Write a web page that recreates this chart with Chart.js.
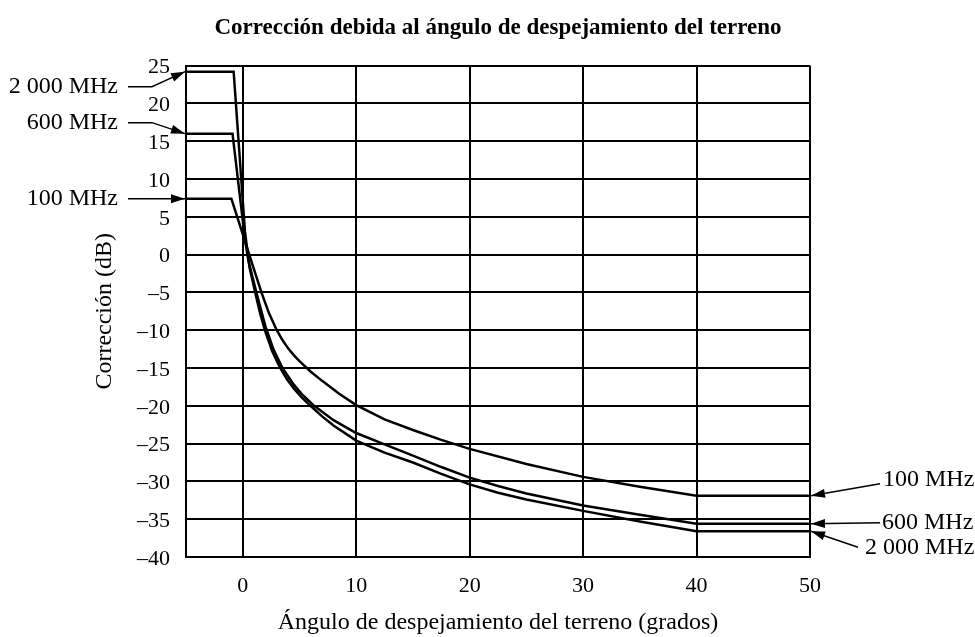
<!DOCTYPE html>
<html>
<head>
<meta charset="utf-8">
<script src="https://cdn.jsdelivr.net/npm/chart.js@4.4.1/dist/chart.umd.min.js"></script>
<style>
html,body{margin:0;padding:0;background:#fff;}
#wrap{width:975px;height:637px;}
</style>
</head>
<body>
<div id="wrap"><canvas id="chart" width="975" height="637"></canvas></div>
<script>
/* Corrección debida al ángulo de despejamiento del terreno */

// --- data ---
var SERIES_LABELS = ['100 MHz', '600 MHz', '2 000 MHz'];

var ANG_100 = [-5, -1.0, 0, 1, 1.65, 2.3, 3, 3.5, 4, 4.5, 5, 6, 7, 8.5, 10, 12.5, 15, 17.5, 20, 25, 30, 35, 40, 50];
var DB_100  = [7.4, 7.4, 2.7, -2.0, -5.0, -7.7, -10.0, -11.3, -12.4, -13.3, -14.1, -15.5, -16.7, -18.4, -19.9, -21.8, -23.2, -24.5, -25.7, -27.7, -29.4, -30.7, -31.9, -31.9];

var ANG_600 = [-5, -0.9, 0.2, 0.5, 1.2, 2.0, 2.7, 3.5, 4.5, 5.3, 6.3, 7, 8, 10, 12.5, 15, 17.5, 20, 22.5, 25, 30, 35, 40, 50];
var DB_600  = [16.0, 16.0, 2.0, -0.8, -5.0, -9.5, -12.5, -15.0, -17.2, -18.6, -20.0, -20.8, -21.9, -23.6, -25.1, -26.6, -28.1, -29.5, -30.6, -31.6, -33.2, -34.4, -35.6, -35.6];

var ANG_2000 = [-5, -0.8, 0.2, 0.6, 1.1, 1.5, 1.95, 2.6, 3.3, 3.9, 4.5, 5.2, 5.9, 7, 8, 10, 12.5, 15, 17.5, 20, 22.5, 25, 30, 35, 40, 50];
var DB_2000  = [24.2, 24.2, 3.0, -1.7, -5.0, -7.6, -10.0, -12.8, -15.0, -16.5, -17.7, -18.9, -19.9, -21.4, -22.6, -24.6, -26.2, -27.5, -29.0, -30.4, -31.5, -32.4, -33.9, -35.3, -36.6, -36.6];

var X_TICKS = [0, 10, 20, 30, 40, 50];
var Y_TICKS = [-40, -35, -30, -25, -20, -15, -10, -5, 0, 5, 10, 15, 20, 25];

var FONT = '"Liberation Serif", "Times New Roman", serif';

function toPoints(xs, ys) {
  return xs.map(function(x, i){ return {x: x, y: ys[i]}; });
}

// label offsets (px) from the arrow tip, same order as SERIES_LABELS
var LEFT_NOTE_DY  = [0, -11, 15];
var RIGHT_NOTE_DY = [-16, -1, 16];

function arrowHead(ctx, x0, y0, x1, y1) {
  var ang = Math.atan2(y1 - y0, x1 - x0), L = 14, W = 4.5;
  var bx = x1 - L * Math.cos(ang), by = y1 - L * Math.sin(ang);
  ctx.beginPath();
  ctx.moveTo(x1, y1);
  ctx.lineTo(bx + W * Math.sin(ang), by - W * Math.cos(ang));
  ctx.lineTo(bx - W * Math.sin(ang), by + W * Math.cos(ang));
  ctx.closePath();
  ctx.fill();
}

var notesPlugin = {
  id: 'freqNotes',
  afterDraw: function(chart) {
    var ctx = chart.ctx, a = chart.chartArea, ys = chart.scales.y;
    var series = [DB_100, DB_600, DB_2000];
    ctx.save();
    ctx.fillStyle = '#000';
    ctx.strokeStyle = '#000';
    ctx.lineWidth = 1.5;
    ctx.font = '24px ' + FONT;
    ctx.textBaseline = 'middle';

    // left side labels
    series.forEach(function(s, i){
      var tipX = a.left - 1, tipY = ys.getPixelForValue(s[0]);
      var ly = tipY + LEFT_NOTE_DY[i];
      ctx.textAlign = 'right';
      ctx.fillText(SERIES_LABELS[i], a.left - 68, ly);
      ctx.beginPath();
      ctx.moveTo(a.left - 58, ly);
      ctx.lineTo(a.left - 34, ly);
      ctx.lineTo(tipX, tipY);
      ctx.stroke();
      arrowHead(ctx, a.left - 34, ly, tipX, tipY);
    });

    // right side labels
    var textX = [73, 72, 55], lineX = [70, 70, 48], lineDY = [4, 0, 0];
    series.forEach(function(s, i){
      var tipX = a.right + 1, tipY = ys.getPixelForValue(s[s.length - 1]);
      var ly = tipY + RIGHT_NOTE_DY[i];
      ctx.textAlign = 'left';
      ctx.fillText(SERIES_LABELS[i], a.right + textX[i], ly);
      ctx.beginPath();
      ctx.moveTo(a.right + lineX[i], ly + lineDY[i]);
      ctx.lineTo(tipX, tipY);
      ctx.stroke();
      arrowHead(ctx, a.right + lineX[i], ly + lineDY[i], tipX, tipY);
    });
    ctx.restore();
  }
};

var ctx = document.getElementById('chart');
new Chart(ctx, {
  type: 'line',
  data: {
    datasets: [
      {label: SERIES_LABELS[0], data: toPoints(ANG_100, DB_100)},
      {label: SERIES_LABELS[1], data: toPoints(ANG_600, DB_600)},
      {label: SERIES_LABELS[2], data: toPoints(ANG_2000, DB_2000)}
    ].map(function(d){
      d.borderColor = '#000';
      d.borderWidth = 2.5;
      d.pointRadius = 0;
      d.tension = 0;
      d.fill = false;
      return d;
    })
  },
  options: {
    responsive: false,
    animation: false,
    layout: {padding: {left: 0, right: 165, top: 0, bottom: 0}},
    plugins: {
      legend: {display: false},
      tooltip: {enabled: false},
      title: {
        display: true,
        fullSize: false,
        text: 'Corrección debida al ángulo de despejamiento del terreno',
        color: '#000',
        font: {family: FONT, size: 23, weight: 'bold'},
        padding: {top: 14, bottom: 24}
      }
    },
    scales: {
      x: {
        type: 'linear', min: -5, max: 50,
        afterBuildTicks: function(s){ s.ticks = X_TICKS.map(function(v){ return {value: v}; }); },
        afterFit: function(s){ s.height = 80; },
        grid: {color: '#000', lineWidth: 2, drawTicks: false},
        border: {color: '#000', width: 2},
        ticks: {color: '#000', font: {family: FONT, size: 22}, padding: 16, maxRotation: 0},
        title: {
          display: true,
          text: 'Ángulo de despejamiento del terreno (grados)',
          color: '#000',
          font: {family: FONT, size: 24},
          padding: {top: 0, bottom: 0}
        }
      },
      y: {
        type: 'linear', min: -40, max: 25,
        afterBuildTicks: function(s){ s.ticks = Y_TICKS.map(function(v){ return {value: v}; }); },
        afterFit: function(s){ s.width = 186; },
        grid: {color: '#000', lineWidth: 2, drawTicks: false},
        border: {color: '#000', width: 2},
        ticks: {
          color: '#000', font: {family: FONT, size: 22}, padding: 16, labelOffset: 2,
          callback: function(v){ return v < 0 ? '\u2013' + Math.abs(v) : String(v); }
        },
        title: {
          display: true,
          text: 'Corrección (dB)',
          color: '#000',
          font: {family: FONT, size: 24},
          padding: {top: 90, bottom: 0}
        }
      }
    }
  },
  plugins: [notesPlugin]
});
</script>
</body>
</html>
